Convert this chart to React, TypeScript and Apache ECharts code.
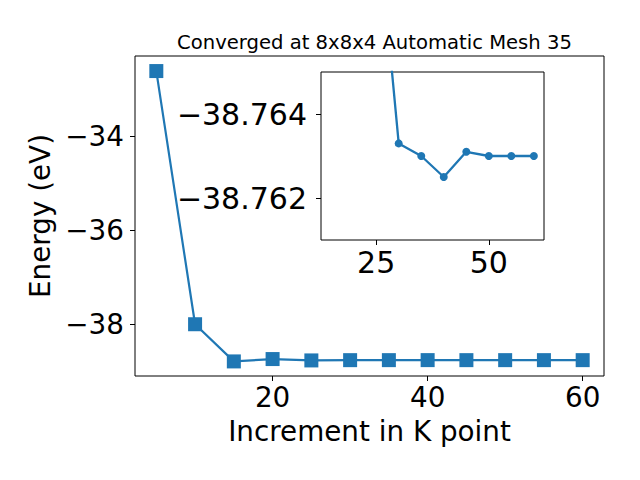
import React, { useEffect, useRef } from "react";
import * as echarts from "echarts";

const kPoints = [5, 10, 15, 20, 25, 30, 35, 40, 45, 50, 55, 60];
const energies = [-32.62, -38.0, -38.79, -38.74, -38.769, -38.7633, -38.763, -38.7625, -38.7631, -38.763, -38.763, -38.763];
const insetKPoints = [25, 30, 35, 40, 45, 50, 55, 60];
const mainXTicks = [20, 40, 60];
const mainYTicks = [-38, -36, -34];
const insetXTicks = [25, 50];
const insetYTicks = [-38.764, -38.762];
const titleText = "Converged at 8x8x4 Automatic Mesh 35";
const xLabel = "Increment in K point";
const yLabel = "Energy (eV)";

const FONT = "DejaVu Sans";
const BLUE = "#1f77b4";
const FS = 27.8;
const FS_INSET = 30;

const minus = (s: string) => s.replace("-", "\u2212");

export default function App() {
  const ref = useRef<HTMLDivElement>(null);
  useEffect(() => {
    if (!ref.current) return;
    const chart = echarts.init(ref.current, null, { renderer: "svg" });
    const pts = kPoints.map((k, i) => [k, energies[i]]);
    const insetPts = pts.filter((p) => insetKPoints.includes(p[0]));
    const tickStyle = { show: true, length: 5, inside: false, lineStyle: { color: "#000", width: 1 } };
    chart.setOption({
      animation: false,
      backgroundColor: "#fff",
      title: {
        text: titleText,
        left: 369.5,
        textAlign: "center",
        top: 27,
        textStyle: { fontFamily: FONT, fontSize: 19.6, fontWeight: "normal", color: "#000" },
      },
      grid: [
        { left: 135, top: 56, width: 469, height: 320, show: true, borderColor: "#000", borderWidth: 1, backgroundColor: "transparent" },
        { left: 321, top: 72, width: 223, height: 168, show: true, borderColor: "#000", borderWidth: 1, backgroundColor: "#fff", z: 10 },
      ],
      xAxis: [
        {
          type: "value", gridIndex: 0, min: 2.25, max: 62.75,
          axisLine: { show: false }, splitLine: { show: false },
          axisTick: { ...tickStyle, customValues: mainXTicks },
          axisLabel: { customValues: mainXTicks, fontFamily: FONT, fontSize: FS, color: "#000", margin: 7 },
          name: xLabel, nameLocation: "middle", nameGap: 41,
          nameTextStyle: { fontFamily: FONT, fontSize: FS, color: "#000" },
        },
        {
          type: "value", gridIndex: 1, min: 12.75, max: 62.25,
          axisLine: { show: false }, splitLine: { show: false },
          axisTick: { ...tickStyle, customValues: insetXTicks },
          axisLabel: { customValues: insetXTicks, fontFamily: FONT, fontSize: FS_INSET, color: "#000", margin: 7 },
          z: 10,
        },
      ],
      yAxis: [
        {
          type: "value", gridIndex: 0, min: -39.1, max: -32.3,
          axisLine: { show: false }, splitLine: { show: false },
          axisTick: { ...tickStyle, customValues: mainYTicks },
          axisLabel: { customValues: mainYTicks, fontFamily: FONT, fontSize: FS, color: "#000", margin: 11, formatter: (v: number) => minus(String(v)) },
          name: yLabel, nameLocation: "middle", nameGap: 75,
          nameTextStyle: { fontFamily: FONT, fontSize: FS, color: "#000" },
        },
        {
          type: "value", gridIndex: 1, min: -38.765, max: -38.761, inverse: true,
          axisLine: { show: false }, splitLine: { show: false },
          axisTick: { ...tickStyle, customValues: insetYTicks },
          axisLabel: { customValues: insetYTicks, fontFamily: FONT, fontSize: FS_INSET, color: "#000", margin: 14, formatter: (v: number) => minus(v.toFixed(3)) },
          z: 10,
        },
      ],
      series: [
        {
          type: "line", xAxisIndex: 0, yAxisIndex: 0, data: pts,
          symbol: "rect", symbolSize: 14,
          lineStyle: { color: BLUE, width: 2.2 }, itemStyle: { color: BLUE },
          z: 2,
        },
        {
          type: "line", xAxisIndex: 1, yAxisIndex: 1, data: insetPts,
          symbol: "circle", symbolSize: 8, clip: true,
          lineStyle: { color: BLUE, width: 2.3 }, itemStyle: { color: BLUE },
          z: 12,
        },
      ],
    });
    return () => chart.dispose();
  }, []);
  return <div ref={ref} style={{ width: 640, height: 480, position: "absolute", left: 0, top: 0 }} />;
}
